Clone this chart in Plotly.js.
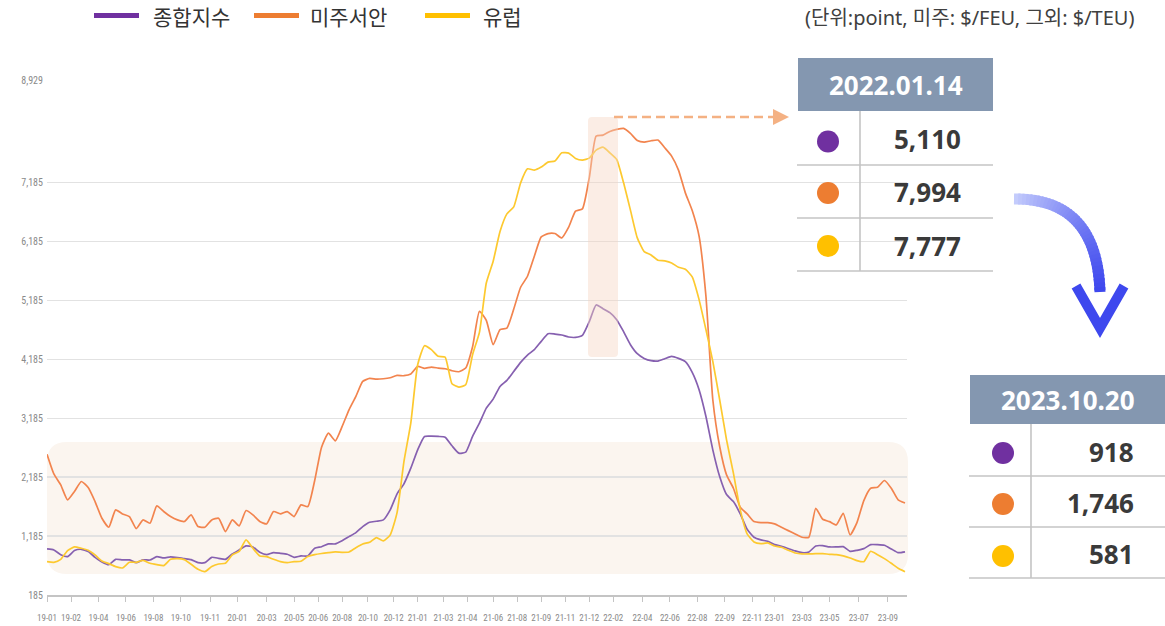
<!DOCTYPE html>
<html>
<head>
<meta charset="utf-8">
<script src="https://cdn.plot.ly/plotly-3.0.1.min.js"></script>
<style>
  html, body { margin: 0; padding: 0; background: #ffffff; }
  #chart { width: 1165px; height: 626px; }
</style>
</head>
<body>
<div id="chart"></div>
<script>
// ---------- DATA (one sample every 2 weeks, week 0 = 2019-01 first week) ----------
const weeks = [0,2,4,6,8,10,12,14,16,18,20,22,24,26,28,30,32,34,36,38,40,42,44,46,48,50,52,54,56,58,60,62,64,66,68,70,72,74,76,78,80,82,84,86,88,90,92,94,96,98,100,102,104,106,108,110,112,114,116,118,120,122,124,126,128,130,132,134,136,138,140,142,144,146,148,150,152,154,156,158,160,162,164,166,168,170,172,174,176,178,180,182,184,186,188,190,192,194,196,198,200,202,204,206,208,210,212,214,216,218,220,222,224,226,228,230,232,234,236,238,240,242,244,246,248,250];

const composite = [967,950,870,837,939,961,922,825,746,700,791,780,780,735,780,780,837,814,831,820,803,786,735,735,825,808,791,882,950,1018,1001,910,870,905,893,876,825,848,848,978,1005,1052,1052,1108,1176,1244,1346,1420,1437,1460,1630,1902,2072,2338,2650,2877,2882,2877,2865,2718,2593,2610,2877,3103,3358,3511,3726,3829,3981,4135,4259,4350,4492,4622,4616,4599,4565,4559,4593,4826,5110,5047,4979,4860,4656,4435,4282,4202,4163,4157,4197,4236,4202,4146,3964,3670,3216,2650,2196,1890,1771,1562,1301,1165,1120,1097,1040,1012,972,933,904,916,1018,1023,1001,1001,1006,927,944,972,1040,1040,1029,967,904,918];

const usWest = [2576,2242,2055,1800,1942,2112,2010,1772,1488,1335,1630,1562,1517,1313,1460,1403,1698,1602,1517,1460,1432,1545,1347,1335,1460,1488,1262,1460,1358,1619,1545,1432,1392,1602,1562,1602,1517,1715,1687,2129,2695,2933,2803,3047,3330,3557,3811,3863,3851,3857,3874,3914,3908,3936,4067,4033,4055,4038,4027,3993,3976,4038,4400,5000,4848,4435,4690,4718,5041,5410,5597,5937,6265,6322,6322,6248,6430,6702,6741,7268,7977,7994,8056,8090,8107,8022,7903,7875,7897,7909,7778,7637,7399,7013,6713,6277,5257,3500,2706,2225,1998,1675,1562,1431,1414,1414,1392,1335,1278,1222,1165,1165,1658,1471,1431,1375,1573,1205,1414,1788,1998,2015,2129,1998,1800,1746];

const europe = [752,740,791,939,1001,978,944,865,763,718,667,644,740,740,774,723,701,684,791,803,786,706,621,582,667,712,723,865,927,1120,978,848,837,791,752,735,752,757,837,871,890,904,916,910,916,989,1052,1080,1159,1103,1205,1584,2450,3103,4095,4418,4350,4237,4225,3772,3715,3755,4265,4645,5483,5852,6356,6656,6775,7183,7421,7399,7450,7535,7552,7693,7688,7597,7569,7603,7739,7790,7693,7580,7183,6719,6248,6016,5959,5869,5857,5823,5750,5716,5585,5200,4690,4151,3500,2820,2253,1630,1222,1086,1057,1069,1018,995,944,899,882,882,887,887,876,870,848,814,769,751,927,870,803,723,638,581];

const seriesNames = ['종합지수', '미주서안', '유럽'];

const xTickWeeks = [0,7,15,23,31,39,47.5,55.5,64,72,79,86,93.5,101,108,115.5,122.5,130,137,144,151,158,165,173.5,181.5,189.5,197.5,205.5,212,220,228,236.5,245];
const xTickLabels = ['19-01','19-02','19-04','19-06','19-08','19-10','19-11','20-01','20-03','20-05','20-06','20-08','20-10','20-12','21-01','21-03','21-04','21-06','21-08','21-09','21-11','21-12','22-02','22-04','22-06','22-08','22-09','22-11','23-01','23-03','23-05','23-07','23-09'];

const yTickVals = [185,1185,2185,3185,4185,5185,6185,7185,8929];
const yTickLabels = ['185','1,185','2,185','3,185','4,185','5,185','6,185','7,185','8,929'];

const table1Date = '2022.01.14';
const table1Values = ['5,110','7,994','7,777'];
const table2Date = '2023.10.20';
const table2Values = ['918','1,746','581'];
const unitText = '(단위:point, 미주: $/FEU, 그외: $/TEU)';

// ---------- STYLE / LAYOUT ----------
const W = 1165, H = 626;
const PL = 47, PR = 907, PT = 80, PB = 595;
const px = x => (x - PL) / (PR - PL);
const py = y => (PB - y) / (PB - PT);

const lineColors = ['#8660b0', '#f2844e', '#fdc92f'];
const dotColors = ['#7030a0', '#ed7d31', '#ffc000'];
const legendLineColors = ['#7030a0', '#ed7d31', '#ffc000'];

const traces = [composite, usWest, europe].map((vals, i) => ({
  type: 'scatter', mode: 'lines', name: seriesNames[i],
  x: weeks, y: vals,
  line: { color: lineColors[i], width: 1.7, shape: 'spline', smoothing: 0.5 },
  showlegend: false, hoverinfo: 'skip'
}));

function rrect(x0, y0, x1, y1, r) {
  return `M ${px(x0 + r)},${py(y0)} L ${px(x1 - r)},${py(y0)} Q ${px(x1)},${py(y0)} ${px(x1)},${py(y0 + r)} ` +
         `L ${px(x1)},${py(y1 - r)} Q ${px(x1)},${py(y1)} ${px(x1 - r)},${py(y1)} ` +
         `L ${px(x0 + r)},${py(y1)} Q ${px(x0)},${py(y1)} ${px(x0)},${py(y1 - r)} ` +
         `L ${px(x0)},${py(y0 + r)} Q ${px(x0)},${py(y0)} ${px(x0 + r)},${py(y0)} Z`;
}
const P = (o) => Object.assign({ xref: 'paper', yref: 'paper' }, o);

const shapes = [];
const annotations = [];

// background band
shapes.push(P({ type: 'path', path: rrect(47, 442, 908, 574, 20), fillcolor: '#fbf5ef', line: { width: 0 }, layer: 'below' }));
// highlight column
shapes.push(P({ type: 'path', path: rrect(588, 117, 618, 357, 4), fillcolor: 'rgba(245,213,192,0.42)', line: { width: 0 }, layer: 'above' }));
// dashed arrow
shapes.push(P({ type: 'line', x0: px(614), x1: px(774), y0: py(117), y1: py(117), line: { color: '#f4b183', width: 2.5, dash: '9px,5px' } }));
shapes.push(P({ type: 'path', path: `M ${px(773)},${py(109)} L ${px(789)},${py(117)} L ${px(773)},${py(125)} Z`, fillcolor: '#f4b183', line: { width: 0 } }));

// tables
function table(x0, x1, yHead0, yHead1, rows, xDiv, dotX, dotYs, valX, valYs, headText, vals, headY) {
  shapes.push(P({ type: 'rect', x0: px(x0), x1: px(x1), y0: py(yHead0), y1: py(yHead1), fillcolor: '#8497b0', line: { width: 0 } }));
  rows.forEach(y => shapes.push(P({ type: 'line', x0: px(x0 - 1), x1: px(x1), y0: py(y), y1: py(y), line: { color: '#c4c4c4', width: 1.6 } })));
  shapes.push(P({ type: 'line', x0: px(xDiv), x1: px(xDiv), y0: py(yHead1), y1: py(rows[rows.length - 1]), line: { color: '#c4c4c4', width: 1.6 } }));
  dotYs.forEach((y, i) => shapes.push(P({ type: 'circle', x0: px(dotX - 11), x1: px(dotX + 11), y0: py(y - 11), y1: py(y + 11), fillcolor: dotColors[i], line: { width: 0 } })));
  annotations.push(P({ x: px((x0 + x1) / 2), y: py(headY), text: headText, showarrow: false, xanchor: 'center', yanchor: 'middle',
    font: { family: 'Noto Sans, Open Sans, sans-serif', size: 26, color: '#ffffff', weight: 700 } }));
  vals.forEach((v, i) => annotations.push(P({ x: px(valX), y: py(valYs[i]), text: '<b>' + v + '</b>', showarrow: false, xanchor: 'right', yanchor: 'middle',
    font: { family: 'Noto Sans, Open Sans, sans-serif', size: 26, color: '#3a3a3a' } })));
}
table(798, 993, 58, 111, [165, 218, 271], 860, 828, [141.5, 193, 246], 963, [139, 192, 246], table1Date, table1Values, 85);
table(970, 1165, 375, 424, [476, 527, 578], 1031, 1003, [453, 504, 556], 1136, [452, 503, 554], table2Date, table2Values, 400);

// blue curved arrow (gradient by many short opaque segments)
(function () {
  const p0 = [1014, 199], p1 = [1097, 198], p2 = [1100, 292];
  const N = 40;
  const c0 = [196, 204, 252], c1 = [62, 72, 238];
  const pt = t => [(1 - t) * (1 - t) * p0[0] + 2 * (1 - t) * t * p1[0] + t * t * p2[0],
                   (1 - t) * (1 - t) * p0[1] + 2 * (1 - t) * t * p1[1] + t * t * p2[1]];
  for (let i = 0; i < N; i++) {
    const a = pt(i / N), b = pt(Math.min(1, (i + 1.6) / N));
    const f = Math.pow(i / (N - 1), 0.8);
    const c = c0.map((v, j) => Math.round(v + (c1[j] - v) * f));
    shapes.push(P({ type: 'line', x0: px(a[0]), y0: py(a[1]), x1: px(b[0]), y1: py(b[1]),
      line: { color: `rgb(${c[0]},${c[1]},${c[2]})`, width: 11 } }));
  }
  shapes.push(P({ type: 'path', path: `M ${px(1076)},${py(286)} L ${px(1100)},${py(328)} L ${px(1124)},${py(286)}`,
    line: { color: 'rgb(62,72,238)', width: 10 } }));
})();

// manual legend
const legendX = [[94, 139, 151], [254, 299, 308], [425, 470, 481]];
legendX.forEach((lx, i) => {
  shapes.push(P({ type: 'line', x0: px(lx[0]), x1: px(lx[1]), y0: py(15.5), y1: py(15.5), line: { color: legendLineColors[i], width: 5 } }));
  annotations.push(P({ x: px(lx[2]), y: py(16), text: seriesNames[i], showarrow: false, xanchor: 'left', yanchor: 'middle',
    font: { family: 'Noto Sans CJK KR, sans-serif', size: 21, color: '#333333' } }));
});
annotations.push(P({ x: px(1136), y: py(17), text: unitText, showarrow: false, xanchor: 'right', yanchor: 'middle',
  font: { family: 'Noto Sans, Noto Sans CJK KR, sans-serif', size: 20, color: '#404040' } }));

const xTickFont = { family: 'Liberation Sans Narrow, Roboto Condensed, Roboto, sans-serif', size: 9, color: '#8a8a8a' };
const yTickFont = { family: 'Liberation Sans Narrow, Roboto Condensed, Roboto, sans-serif', size: 10, color: '#8a8a8a' };

const layout = {
  width: W, height: H,
  margin: { l: PL, r: W - PR, t: PT, b: H - PB, pad: 0 },
  paper_bgcolor: '#ffffff', plot_bgcolor: 'rgba(0,0,0,0)',
  showlegend: false,
  xaxis: {
    type: 'linear', range: [0, (PR - PL) / 3.432],
    tickmode: 'array', tickvals: xTickWeeks, ticktext: xTickLabels,
    showgrid: false, zeroline: false,
    showline: true, linecolor: '#c4c4c4', linewidth: 1.5,
    ticks: 'outside', ticklen: 5, tickwidth: 1, tickcolor: '#c4c4c4',
    ticklabelstandoff: 9, tickfont: xTickFont, tickangle: 0, fixedrange: true
  },
  yaxis: {
    range: [185, 8929], tickmode: 'array', tickvals: yTickVals, ticktext: yTickLabels,
    showgrid: true, gridcolor: '#e2e2e2', gridwidth: 1.5, zeroline: false, showline: false,
    ticks: '', ticklabelstandoff: 3, tickfont: yTickFont, fixedrange: true
  },
  shapes: shapes,
  annotations: annotations,
  font: { family: 'Noto Sans CJK KR, sans-serif' }
};

Plotly.newPlot('chart', traces, layout, { displayModeBar: false, staticPlot: true });
</script>
</body>
</html>
